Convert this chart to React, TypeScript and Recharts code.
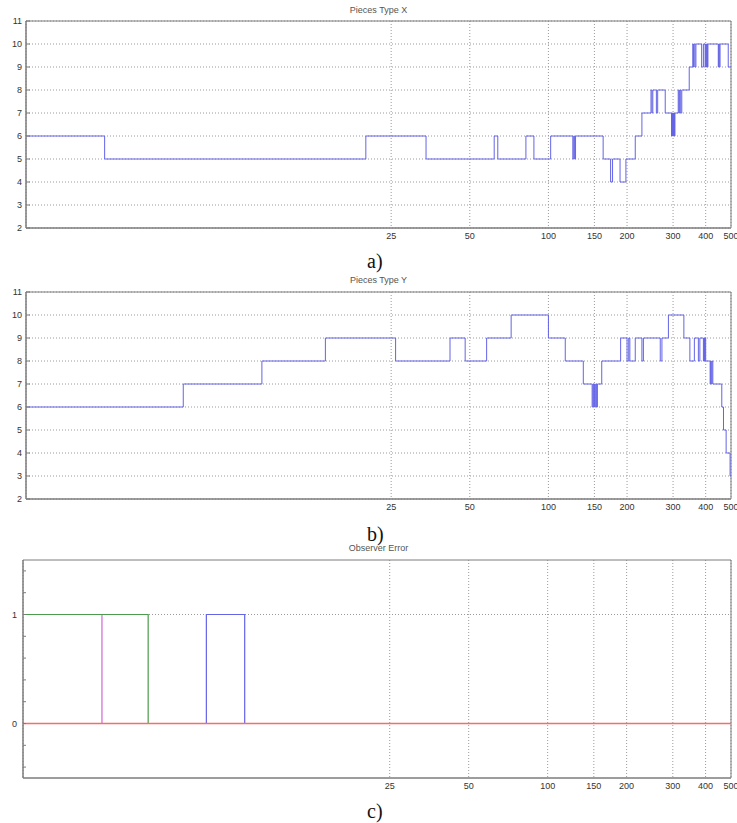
import {
  LineChart,
  Line,
  XAxis,
  YAxis,
  CartesianGrid,
  ReferenceArea,
  ReferenceLine,
} from 'recharts';

const xTicks = [25, 50, 100, 150, 200, 300, 400, 500];
const pieceTicks = [2, 3, 4, 5, 6, 7, 8, 9, 10, 11];
const errorTicks = [-0.4, -0.2, 0, 0.2, 0.4, 0.6, 0.8, 1, 1.2, 1.4];

// iteration where the count changes, and the count from there on
const typeXIter = [
  1, 2, 20, 34, 62, 64, 82, 88, 102, 124, 125, 126, 127, 162, 173, 176, 188, 198, 215, 228,
  247, 249, 251, 259, 262, 280, 296, 297, 298, 299, 300, 301, 302, 303, 304, 305, 314, 316,
  318, 321, 324, 346, 357, 359, 361, 364, 367, 386, 392, 398, 400, 402, 404, 406, 408, 447,
  449, 451, 454, 488, 500,
];
const typeXCount = [
  6, 5, 6, 5, 6, 5, 6, 5, 6, 5, 6, 5, 6, 5, 4, 5, 4, 5, 6, 7,
  8, 7, 8, 7, 8, 7, 6, 7, 6, 7, 6, 7, 6, 7, 6, 7, 8, 7,
  8, 7, 8, 9, 10, 9, 10, 9, 10, 9, 10, 9, 10, 9, 10, 9, 10, 9,
  10, 9, 10, 9, 9,
];

const typeYIter = [
  1, 4, 8, 14, 26, 42, 48, 58, 72, 100, 116, 136, 147, 148, 149, 150, 151, 152, 153, 154,
  160, 189, 200, 203, 205, 215, 228, 231, 268, 272, 288, 330, 348, 362, 375, 380, 392, 394,
  396, 398, 400, 416, 418, 420, 423, 426, 461, 468, 479, 496, 500,
];
const typeYCount = [
  6, 7, 8, 9, 8, 9, 8, 9, 10, 9, 8, 7, 6, 7, 6, 7, 6, 7, 6, 7,
  8, 9, 8, 9, 8, 9, 8, 9, 8, 9, 10, 9, 8, 9, 8, 9, 8, 9,
  8, 9, 8, 7, 8, 7, 8, 7, 6, 5, 4, 3, 3,
];

const errMagentaIter = [1, 2, 500];
const errMagenta = [1, 0, 0];
const errBlueIter = [1, 5, 7, 500];
const errBlue = [0, 1, 0, 0];
const errGreenIter = [1, 3, 500];
const errGreen = [1, 0, 0];
const errRedIter = [1, 500];
const errRed = [0, 0];

const toPoints = (xs: number[], ys: number[]) => xs.map((x, i) => ({ iter: x, value: ys[i] }));

const FRAME = '#7d7d7d';
const GRID = '#9a9a9a';
const TICK_FONT = { fontSize: 9, fill: '#333', fontFamily: 'Liberation Sans, Arial, sans-serif' };

const titleStyle = (top: number): React.CSSProperties => ({
  position: 'absolute',
  top,
  left: 0,
  width: 757,
  textAlign: 'center',
  fontSize: 9,
  lineHeight: '10px',
  color: '#555',
  fontFamily: 'Liberation Sans, Arial, sans-serif',
});

const captionStyle = (top: number): React.CSSProperties => ({
  position: 'absolute',
  top,
  left: 367,
  fontSize: 20,
  lineHeight: '20px',
  color: '#111',
  fontFamily: 'Liberation Serif, Times New Roman, serif',
});

function PiecesPlot({ iters, counts, top }: { iters: number[]; counts: number[]; top: number }) {
  const data = toPoints(iters, counts);
  return (
    <div style={{ position: 'absolute', left: 0, top }}>
      <LineChart width={737} height={235} data={data} margin={{ top: 8, right: 6, bottom: 0, left: 0 }}>
        <CartesianGrid stroke={GRID} strokeDasharray="1 2" />
        <XAxis
          dataKey="iter"
          type="number"
          scale="log"
          domain={[1, 500]}
          allowDataOverflow
          ticks={xTicks}
          interval={0}
          height={20}
          tickSize={0}
          tickMargin={5}
          tickLine={false}
          axisLine={{ stroke: FRAME }}
          tick={TICK_FONT}
        />
        <YAxis
          type="number"
          domain={[2, 11]}
          ticks={pieceTicks}
          interval={0}
          width={26}
          tickSize={-4}
          tickMargin={8}
          tickLine={{ stroke: FRAME }}
          axisLine={{ stroke: FRAME }}
          tick={TICK_FONT}
        />
        <YAxis
          yAxisId="right"
          orientation="right"
          type="number"
          domain={[2, 11]}
          ticks={pieceTicks}
          interval={0}
          width={0}
          tickSize={-4}
          tick={false}
          tickLine={{ stroke: FRAME }}
          axisLine={{ stroke: FRAME }}
        />
        <ReferenceArea x1={1} x2={500} y1={2} y2={11} fill="none" stroke={FRAME} />
        <Line
          type="stepAfter"
          dataKey="value"
          stroke="#6464e6"
          strokeWidth={1}
          dot={false}
          isAnimationActive={false}
        />
      </LineChart>
    </div>
  );
}

function ErrorPlot({ top }: { top: number }) {
  const series = [
    { name: 'magenta', color: '#d266d8', data: toPoints(errMagentaIter, errMagenta) },
    { name: 'blue', color: '#6464e6', data: toPoints(errBlueIter, errBlue) },
    { name: 'green', color: '#4c9a4c', data: toPoints(errGreenIter, errGreen) },
  ];
  return (
    <div style={{ position: 'absolute', left: 0, top }}>
      <LineChart width={737} height={246} margin={{ top: 8, right: 6, bottom: 0, left: 0 }}>
        <CartesianGrid stroke={GRID} strokeDasharray="1 2" horizontal={false} />
        <XAxis
          dataKey="iter"
          type="number"
          scale="log"
          domain={[1, 500]}
          allowDataOverflow
          ticks={xTicks}
          interval={0}
          height={20}
          tickSize={0}
          tickMargin={5}
          tickLine={false}
          axisLine={{ stroke: FRAME }}
          tick={TICK_FONT}
        />
        <YAxis
          type="number"
          domain={[-0.5, 1.5]}
          ticks={errorTicks}
          interval={0}
          width={23}
          tickSize={-3}
          tickMargin={9}
          tickFormatter={(v: number) => (v === 0 || v === 1 ? String(v) : '')}
          tickLine={{ stroke: FRAME }}
          axisLine={{ stroke: FRAME }}
          tick={TICK_FONT}
        />
        <YAxis
          yAxisId="right"
          orientation="right"
          type="number"
          domain={[-0.5, 1.5]}
          ticks={errorTicks}
          interval={0}
          width={0}
          tickSize={-3}
          tick={false}
          tickLine={{ stroke: FRAME }}
          axisLine={{ stroke: FRAME }}
        />
        <ReferenceLine y={1} stroke={GRID} strokeDasharray="1 2" />
        <ReferenceArea x1={1} x2={500} y1={-0.5} y2={1.5} fill="none" stroke={FRAME} />
        {series.map((s) => (
          <Line
            key={s.name}
            data={s.data}
            type="stepAfter"
            dataKey="value"
            stroke={s.color}
            strokeWidth={1.2}
            dot={false}
            isAnimationActive={false}
          />
        ))}
        <Line
          data={toPoints(errRedIter, errRed)}
          type="stepAfter"
          dataKey="value"
          stroke="#f76c6c"
          strokeWidth={1.5}
          dot={false}
          isAnimationActive={false}
        />
      </LineChart>
    </div>
  );
}

export default function App() {
  return (
    <div style={{ position: 'absolute', left: 0, top: 0, width: 737, height: 823, background: '#fff' }}>
      <div style={titleStyle(5)}>Pieces Type X</div>
      <PiecesPlot iters={typeXIter} counts={typeXCount} top={13} />
      <div style={captionStyle(251)}>a)</div>

      <div style={titleStyle(275)}>Pieces Type Y</div>
      <PiecesPlot iters={typeYIter} counts={typeYCount} top={284} />
      <div style={captionStyle(524)}>b)</div>

      <div style={titleStyle(543)}>Observer Error</div>
      <ErrorPlot top={552} />
      <div style={captionStyle(801)}>c)</div>
    </div>
  );
}
